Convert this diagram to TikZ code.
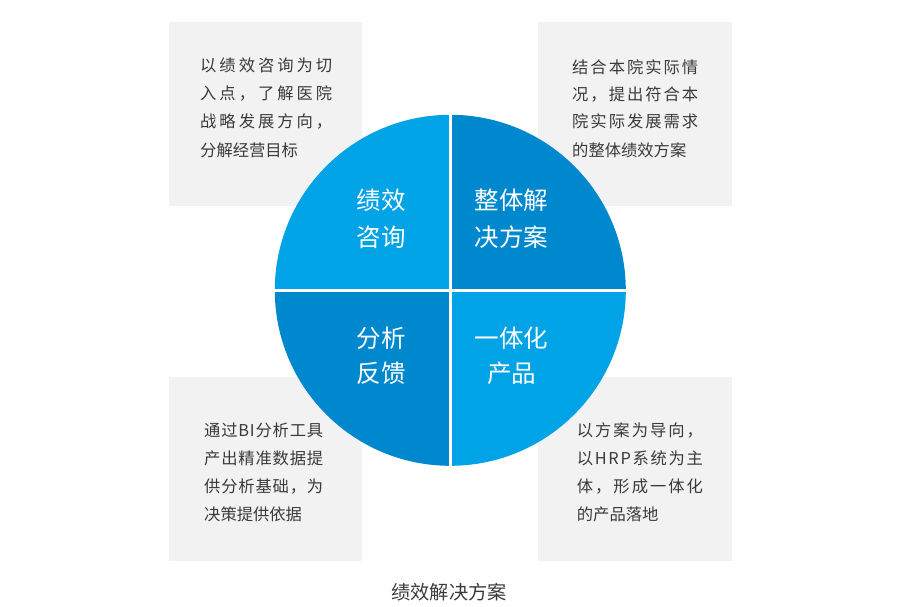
\documentclass[tikz,border=0pt]{standalone}
\usepackage{fontspec}
\setmainfont{Noto Sans CJK SC}
\definecolor{boxgray}{HTML}{F2F2F2}
\definecolor{lightblue}{HTML}{00A3E6}
\definecolor{darkblue}{HTML}{0088CF}
\definecolor{txtgray}{HTML}{3A3A3A}
\def\sprx#1{\ifx#1\relax\else#1\expandafter\sprz\fi}
\def\sprz#1{\ifx#1\relax\else\hfill#1\expandafter\sprz\fi}
\newcommand\spr[2]{\makebox[#1][s]{\sprx#2\relax}}
\tikzset{
  boxtxt/.style={anchor=base west,inner sep=0pt,text=txtgray,font=\fontsize{16.3}{20}\selectfont},
  qtxt/.style={anchor=base,inner sep=0pt,text=white,font=\fontsize{24.5}{30}\selectfont},
  infobox/.style={fill=boxgray,draw=none},
}
\begin{document}
\begin{tikzpicture}[x=1pt,y=-1pt]
\useasboundingbox (0,0) rectangle (900,606);
% gray boxes
\fill[infobox] (169,22) rectangle (362,206);
\fill[infobox] (538,22) rectangle (732,206);
\fill[infobox] (169,377) rectangle (362,561);
\fill[infobox] (538,377) rectangle (732,561);
% circle quadrants (y axis points down: angles are mirrored)
\coordinate (c) at (450.3,290.3);
\fill[lightblue] (c) -- ++(-175.5,0) arc[start angle=180,end angle=270,radius=175.5] -- cycle;
\fill[darkblue] (c) -- ++(0,-175.5) arc[start angle=270,end angle=360,radius=175.5] -- cycle;
\fill[darkblue] (c) -- ++(-175.5,0) arc[start angle=180,end angle=90,radius=175.5] -- cycle;
\fill[lightblue] (c) -- ++(175.5,0) arc[start angle=0,end angle=90,radius=175.5] -- cycle;
\coordinate (ct) at (450.3,113);
\coordinate (cb) at (450.3,468);
\coordinate (cl) at (273,290.3);
\coordinate (cr) at (628,290.3);
\draw[white,line width=2.5pt] (ct) -- (cb);
\draw[white,line width=2.5pt] (cl) -- (cr);
% quadrant labels
\node[qtxt] (q1a) at (381,209) {绩效};
\node[qtxt] (q1b) at (381,246) {咨询};
\node[qtxt] (q2a) at (511.5,209) {整体解};
\node[qtxt] (q2b) at (511.5,246) {决方案};
\node[qtxt] (q3a) at (381,347.5) {分析};
\node[qtxt] (q3b) at (381,382.5) {反馈};
\node[qtxt] (q4a) at (511.5,347.5) {一体化};
\node[qtxt] (q4b) at (511.5,382.5) {产品};
% top-left text
\node[boxtxt] (tl1) at (200,71) {\spr{132pt}{以绩效咨询为切}};
\node[boxtxt] (tl2) at (200,99.3) {\spr{132pt}{入点，了解医院}};
\node[boxtxt] (tl3) at (200,127.6) {\spr{132pt}{战略发展方向，}};
\node[boxtxt] (tl4) at (200,156) {分解经营目标};
% top-right text
\node[boxtxt] (tr1) at (572,73) {\spr{126pt}{结合本院实际情}};
\node[boxtxt] (tr2) at (572,100.3) {\spr{126pt}{况，提出符合本}};
\node[boxtxt] (tr3) at (572,127.6) {\spr{126pt}{院实际发展需求}};
\node[boxtxt] (tr4) at (572,156) {的整体绩效方案};
% bottom-left text
\node[boxtxt] (bl1) at (204,436) {\spr{119pt}{通过BI分析工具}};
\node[boxtxt] (bl2) at (204,464.3) {\spr{119pt}{产出精准数据提}};
\node[boxtxt] (bl3) at (204,492.3) {\spr{119pt}{供分析基础，为}};
\node[boxtxt] (bl4) at (204,520) {决策提供依据};
% bottom-right text
\node[boxtxt] (br1) at (576.7,436) {\spr{126pt}{以方案为导向，}};
\node[boxtxt] (br2) at (576.7,464.3) {\spr{126pt}{以HRP系统为主}};
\node[boxtxt] (br3) at (576.7,492.6) {\spr{126pt}{体，形成一体化}};
\node[boxtxt] (br4) at (576.7,520) {的产品落地};
% caption
\node[anchor=base,inner sep=0pt,text=txtgray,font=\fontsize{19.2}{23}\selectfont] (cap) at (449,599) {绩效解决方案};
\end{tikzpicture}
\end{document}
